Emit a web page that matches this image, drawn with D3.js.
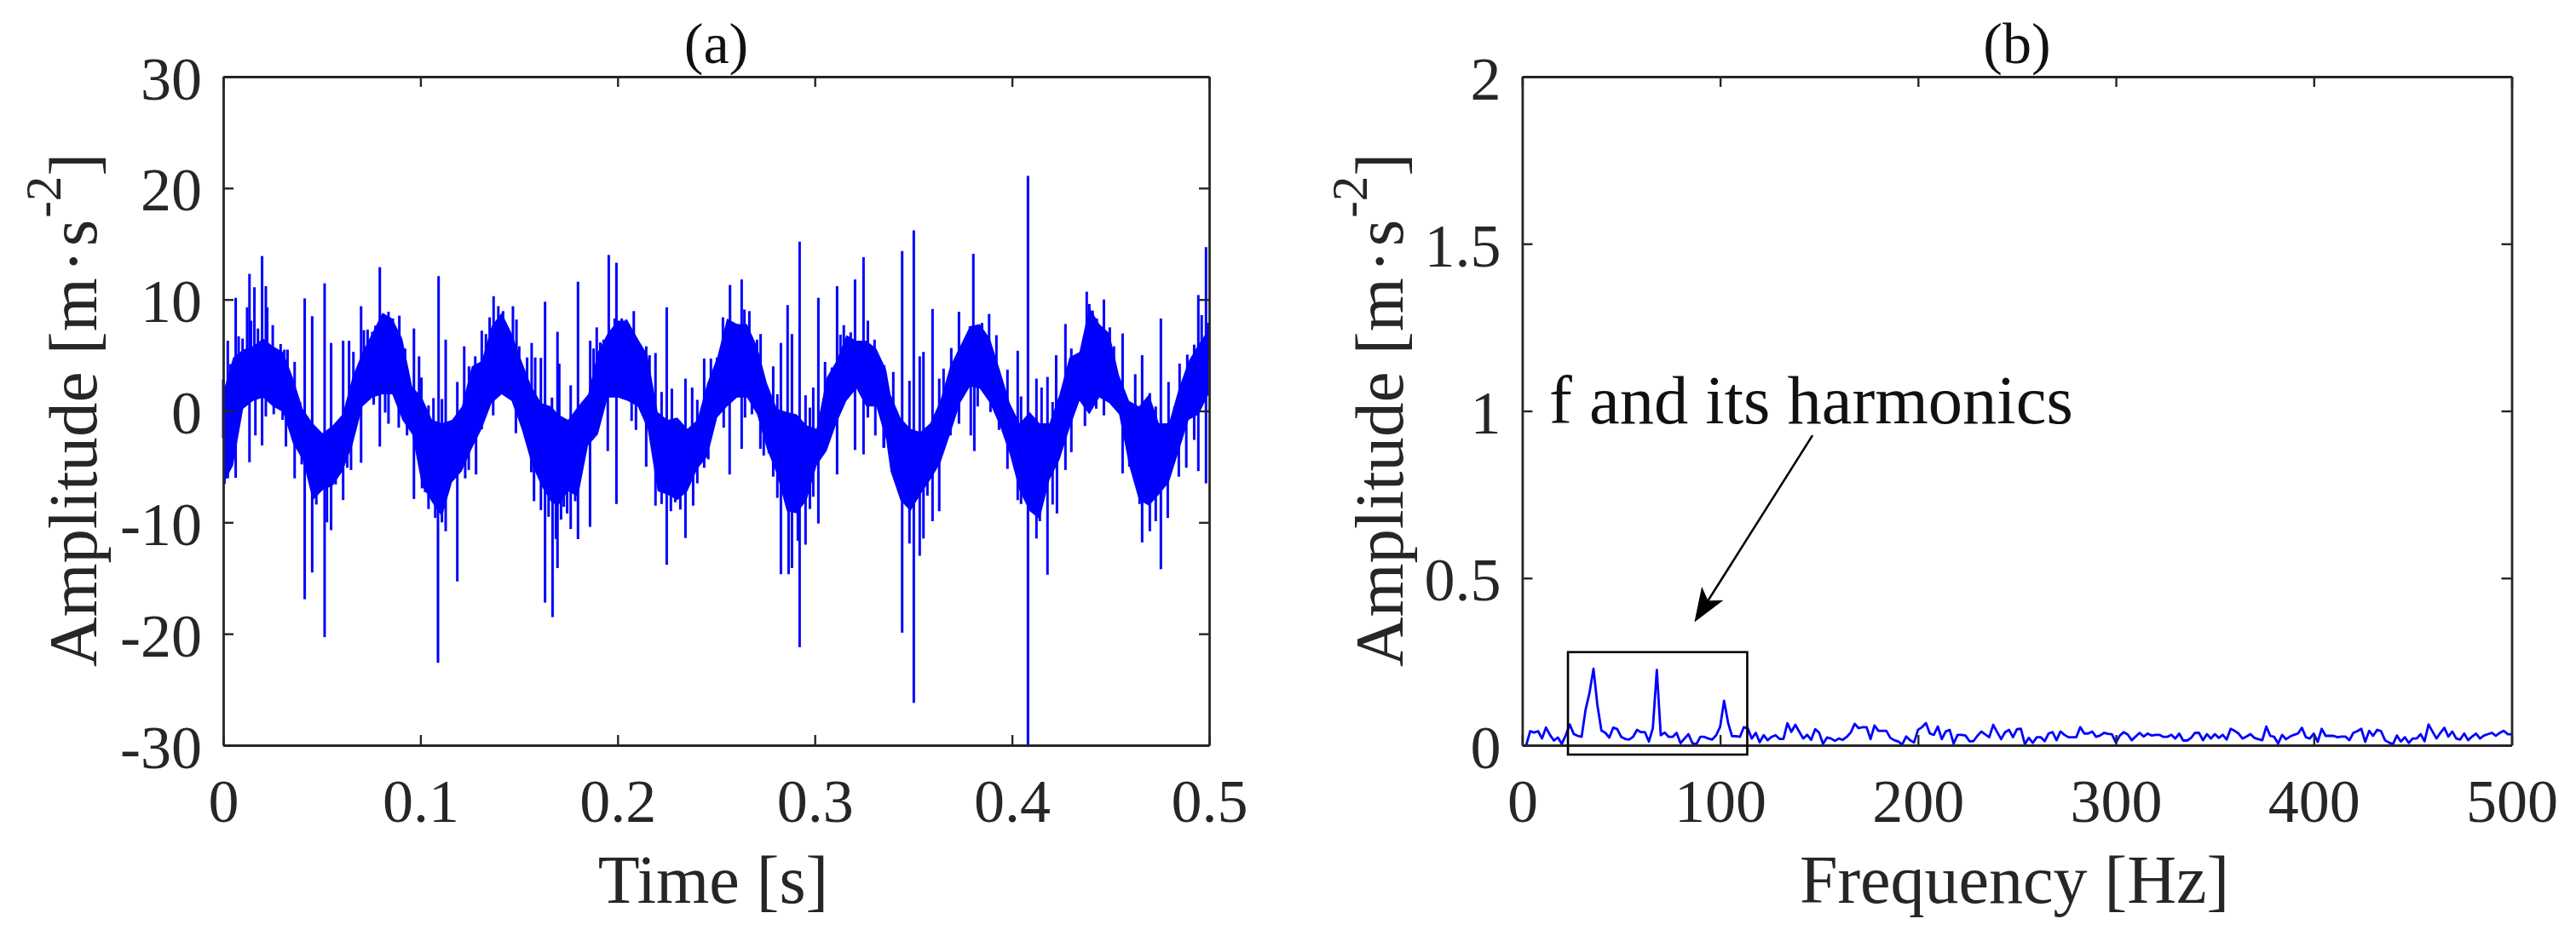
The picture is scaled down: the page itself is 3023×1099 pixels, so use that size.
<!DOCTYPE html>
<html>
<head>
<meta charset="utf-8">
<script src="https://cdn.jsdelivr.net/npm/d3@7"></script>
<style>
  body { margin: 0; background: #fff; }
  text { font-family: "Liberation Serif", serif; fill: #262626; }
  .domain { stroke: #262626; stroke-width: 2.8; }
  .tick line { stroke: #262626; stroke-width: 2.4; }
</style>
</head>
<body>
<svg id="chart" width="3023" height="1099"></svg>
<script>
// Panel (a): solid mass of the vibration signal
var coreTime = [0,.005,.0101,.0151,.0202,.0252,.0303,.0353,.0403,.0454,.0504,.0555,.0605,.0655,.0706,.0756,.0807,.0857,.0908,.0958,.1008,.1059,.1109,.116,.121,.126,.1311,.1361,.1412,.1462,.1513,.1563,.1613,.1664,
  .1698,.1749,.1799,.185,.19,.195,.2001,.2051,.2102,.2152,.2203,.2253,.2303,.2354,.2404,.2455,.2505,.2555,.2606,.2656,.2707,.2757,.2808,.2858,.2908,.2959,.3009,.306,.311,.316,.3211,.3261,.3312,.3362,
  .3384,.3434,.3485,.3535,.3585,.3636,.3686,.3737,.3787,.3837,.3888,.3938,.3989,.4039,.409,.414,.419,.4241,.4291,.4342,.4392,.4443,.4493,.4543,.4594,.4644,.4695,.4745,.4796,.4846,.4896,.4947,.4997];
var coreHigh = [1.7,4.8,5.5,5.8,6.5,5.8,5.3,3,.2,-1.1,-2,-1.3,-.3,3,5.3,7,8.8,8.3,6.5,2.2,1.2,-.8,-1.1,-.8,.4,4,4.5,7.6,8.8,7,4.5,2.2,.7,.4,
  -.3,-.8,.4,1.5,5.3,7,8.1,8.1,6.5,5,-.1,-.8,-.6,-1.6,-.8,2.5,4.8,8.3,7.8,7.8,5.8,2.5,.2,-.1,-.3,-1.3,-1.6,3,4.5,6.8,6.3,6.3,5.6,3.7,
  1.5,-.6,-1.6,-1.9,-1.1,.9,4,5.8,7.6,7.8,6.5,3.7,.7,-1.1,-.1,-1.1,-1.1,1.5,4.8,5.3,9.3,7.8,7,3.2,.9,.4,1.5,-1.1,-1.1,2,4.5,6,7.3];
var coreLow = [-6.6,-4.9,.2,.9,1.2,.4,-.1,-2.9,-4.4,-8,-7.1,-6.7,-5.4,-3.1,.4,1.2,1.5,1.5,-.8,-2.1,-6.7,-8.2,-9.5,-6.4,-5.4,-3.4,-1.6,.7,1.5,.9,-1.6,-4.7,-6.7,-8.2,
  -8.5,-7.2,-7.7,-3.1,-2.1,1.2,1.2,.9,.4,-1.6,-7.2,-7.5,-8,-7.2,-5.2,-4.1,-.6,.4,1.2,1.2,-.3,-3.4,-5.7,-9,-9.2,-8,-4.9,-3.6,-1.1,.9,2,.4,.4,-2.6,
  -5.4,-8,-9,-7.5,-6.2,-4.7,-2.1,.7,2.2,2,.7,-1.3,-3.9,-7.2,-9,-9.7,-6.2,-4.4,-1.6,.9,-.3,1.2,.7,-.3,-4.9,-8,-8.5,-7.5,-6.4,-3.6,-.8,-.3,1.5];

// Panel (a): spike tips above the mass
var upTime = [0,.0023,.0037,.0063,.0078,.0098,.0121,.0133,.0141,.0158,.0176,.0197,.0216,.0223,.0251,.0291,.031,.0326,.0362,.0389,.0413,.0451,.0514,.0547,.0608,.0638,.066,.0699,.0713,.0732,.0756,.0772,.0794,.0814,.0838,.086,.0893,.0922,.0967,.0993,.1005,.1041,.1066,.1092,.1109,.1128,.1187,.1222,.1246,.1278,.1311,.1332,.1351,.1371,.1395,.1419,.1469,.1487,.1501,.1541,.1564,.1582,.1611,.1632,
  .1667,.1695,.1704,.1762,.1799,.1861,.1878,.1894,.1912,.1929,.1955,.1985,.1994,.2021,.2044,.2082,.2145,.2162,.2192,.2223,.2249,.2275,.2344,.2378,.2404,.2439,.2473,.2504,.2534,.257,.2603,.2629,.2643,.2668,.2707,.2725,.2789,.281,.2828,.2862,.2884,.2923,.2953,.2975,.2992,.3018,.3052,.3087,.3113,.313,.3147,.3182,.3204,.3247,.3269,.3303,
  .3352,.3398,.3443,.348,.3502,.3532,.3551,.3597,.3631,.3653,.3692,.3731,.3766,.3787,.3804,.3848,.3884,.3921,.3977,.4029,.4046,.4081,.4124,.415,.418,.4206,.4224,.4271,.4301,.4336,.4379,.4392,.4409,.443,.4466,.4496,.4517,.4561,.4625,.466,.4699,.4729,.4755,.4794,.4824,.485,.4889,.4906,.4924,.4945,.4962,.4984,.4995];
var upValue = [2.85,6.3,4.2,10.15,6.7,6.5,9.3,12.3,8.1,11.1,7.4,13.9,11.2,9.3,7.7,6,5.5,5.5,4.4,.8,10.1,8.5,11.45,6.1,6.3,6.3,5.3,9.4,7.25,7.3,7.1,7.66,12.9,8.7,8.9,8.3,8.55,5.6,7.4,4.9,3,.5,1.15,12.1,1.07,6.4,2.6,5.8,4,4.9,7.2,6.9,8.4,10.3,9.4,8.96,9.4,8.2,5.8,4.8,6.1,4.8,4.76,9.8,
  1.2,7.1,4.25,2.3,11.6,6.3,5.6,7.5,6.15,6.4,14,8.3,13.3,8.3,8.2,8.96,5.8,5,5.2,1.7,9.3,2,2.9,2.1,1,4.7,4.7,4.8,8.4,11.3,7.8,11.8,9.1,8.96,6.4,6.9,4,1.5,6.1,9.5,6.9,15.2,1.4,.3,2.1,10.15,4.4,3.9,11.2,6.85,7.7,7.05,11.8,13.8,8.1,6.4,
  4.1,3.5,14.35,2.7,16.2,4.9,5.3,9.15,2.9,3.8,5.65,8.9,6.6,7.6,14.1,7.9,8.7,6.8,3.7,5.4,1.3,21.1,2.9,2.1,3.05,.8,5,7.8,5.6,5,10.7,9.6,9,8.3,10,7.5,5.8,6.95,3.3,5,1.6,.4,8.3,2.6,.4,4.25,5.05,4.5,5.95,10.4,8.6,14.7,7.9];

// Panel (a): spike tips below the mass
var downTime = [.0006,.0023,.0037,.0063,.0133,.0163,.0197,.0216,.0256,.0301,.0318,.0362,.0398,.0413,.0451,.0472,.0514,.0526,.0547,.057,.0608,.0629,.0648,.0699,.0763,.0794,.0821,.0838,.089,.0932,.0967,.1008,.1024,.1041,.1075,.1089,.1109,.1128,.1187,.1227,.1245,.1282,.1311,.1369,.1484,.1562,.1576,.1611,.1632,.165,
  .167,.1687,.1695,.1713,.1727,.1744,.1762,.1785,.1799,.186,.1912,.195,.1994,.2071,.2093,.2145,.2192,.2223,.2249,.227,.2292,.2318,.2344,.2383,.2404,.2439,.246,.2538,.2568,.2629,.2646,.2681,.2724,.2741,.2767,.2789,.281,.2828,.2867,.2884,.2914,.2923,.2953,.2975,.2992,.3018,.3113,.3204,.3247,.3269,.3307,.3351,.3377,
  .3349,.3384,.3407,.3443,.348,.3502,.3532,.3551,.3571,.3597,.3631,.3688,.3731,.3791,.3809,.3826,.3891,.3934,.3977,.4029,.4046,.4081,.4124,.4141,.418,.4206,.4228,.4271,.4301,.437,.4427,.4466,.4561,.4595,.4647,.466,.4699,.4729,.4755,.479,.4846,.4884,.4924,.4945,.4984];
var downValue = [-6.56,-6.05,-5,-6,-4.6,-2.2,-3.1,-.5,-.3,-.8,-3.2,-6.05,-4.8,-16.9,-14.5,-8.4,-20.3,-10,-10.7,-6.6,-8,-5.1,-5.3,-4.65,.56,-3.2,-.15,-1.15,-1.5,-2.2,-7.9,-6.95,-7.3,-8.8,-9.6,-22.6,-10,-10.8,-15.3,-6.05,-5.3,-5.7,-1.65,-.4,-2,-5.5,-8.1,-8.9,-17.2,-9.5,
  -18.5,-11.5,-14.1,-9.75,-8.6,-9.2,-10.6,-8.1,-11.5,-10.4,-.3,-3.6,-8.35,-.9,-1.7,-5,-8.5,-8.35,-13.8,-9,-8.2,-8.85,-11.4,-8.5,-6.5,-5.1,-4.35,-1.5,-5.7,-3.4,-.6,-.3,-3.4,-4,-3.8,-5.9,-7.8,-14.65,-14.65,-14.1,-11.65,-21.2,-12,-8.8,-7.7,-10.1,-5.7,-3.5,-3.9,-.6,-2.2,-3.3,-3.8,
  -3.3,-4,-6.2,-19.9,-11.9,-26.2,-13,-11.45,-7.6,-9.9,-9,-2.2,-1.15,-2.2,-3.6,.4,-.1,-1.7,-5.2,-8,-8.35,-30,-11.45,-9.9,-14.7,-8.4,-9.2,-5.3,-3.7,-1.35,.2,-.4,-5.6,-5,-8.35,-11.8,-10.8,-9.9,-14.2,-9.6,-5.9,-5.1,-2.6,-5.4,-6.5];

// Panel (b): spectrum amplitude, one value every 2 Hz from 2 to 500 Hz
var freqAmp = [0,.042,.038,.042,.02,.053,.031,.014,.023,.004,
  .03,.062,.034,.028,.025,.106,.157,.229,.119,.044,
  .037,.023,.053,.048,.025,.019,.017,.025,.046,.039,
  .039,.011,.051,.225,.03,.038,.025,.025,.037,.006,
  .02,.033,.006,.003,.025,.025,.02,.017,.03,.055,
  .133,.068,.027,.027,.025,.054,.05,.02,.037,.009,
  .03,.015,.025,.03,.019,.019,.066,.04,.061,.04,
  .02,.031,.016,.048,.038,.004,.023,.02,.013,.02,
  .016,.025,.038,.064,.051,
  .054,.054,.018,.059,.043,.043,.043,.022,.015,.011,.002,.026,.015,.008,.046,
  .054,.066,.035,.031,.056,.018,.041,.046,.005,.031,.031,.029,.012,.012,.028,
  .041,.032,.024,.061,.039,.018,.039,.046,.024,.048,.049,.003,.022,.007,.024,
  .024,.012,.035,.039,.015,.041,.031,.024,.024,.024,.054,.035,.035,.041,.025,
  .029,.037,.034,.033,.008,.029,.039,.032,.015,.026,.037,.026,.035,.029,.031,
  .031,.025,.025,.031,.02,.035,.014,.014,
  .022,.037,.037,.015,.033,.02,.033,.022,.031,.017,.049,.043,.035,.02,.026,
  .033,.022,.018,.015,.056,.028,.025,.005,.031,.018,.026,.031,.035,.052,.024,
  .02,.035,.01,.049,.028,.028,.028,.024,.026,.026,.015,.037,.042,.049,.01,
  .043,.028,.046,.042,.015,.008,.003,.029,.011,.024,.007,.02,.02,.033,.012,
  .062,.041,.02,.037,.052,.026,.041,.02,.017,.035,.015,.026,.035,.02,.029,
  .033,.037,.028,.037,.043,.033,.033];

var timeTicks = [0, 0.1, 0.2, 0.3, 0.4, 0.5];
var accelTicks = [-30, -20, -10, 0, 10, 20, 30];
var freqTicks = [0, 100, 200, 300, 400, 500];
var ampTicks = [0, 0.5, 1, 1.5, 2];

// Box and arrow on panel (b), in data units
var boxFreq = [23.1, 113.7];
var boxAmp = [-0.028, 0.2785];
var arrowFreq = [146.7, 87];
var arrowAmp = [0.927, 0.368];

var svg = d3.select("#chart");
var top_ = 90, bottom = 875;
var blue = "#0000ff";

var xA = d3.scaleLinear().domain([0, 0.5]).range([262, 1419]);
var yA = d3.scaleLinear().domain([-30, 30]).range([bottom, top_]);
var xB = d3.scaleLinear().domain([0, 500]).range([1786.4, 2947.5]);
var yB = d3.scaleLinear().domain([0, 2]).range([bottom, top_]);

// Panel (a) signal
var gA = svg.append("g");
var coreRows = coreTime.map((t, i) => ({t: t, hi: coreHigh[i], lo: coreLow[i]}));
gA.append("path")
  .datum(coreRows)
  .attr("fill", blue)
  .attr("d", d3.area().x(d => xA(d.t)).y0(d => yA(d.lo)).y1(d => yA(d.hi)));

// Each spike leaves from the middle of the mass at its own time
var bisect = d3.bisector(d => d.t).center;
var spikes = upTime.map((t, i) => [t, upValue[i]]).concat(downTime.map((t, i) => [t, downValue[i]]));
gA.selectAll("line.spike")
  .data(spikes)
  .join("line")
  .attr("class", "spike")
  .attr("x1", d => xA(d[0]))
  .attr("x2", d => xA(d[0]))
  .attr("y1", d => {
    var row = coreRows[bisect(coreRows, d[0])];
    return yA((row.hi + row.lo) / 2);
  })
  .attr("y2", d => yA(d[1]))
  .attr("stroke", blue)
  .attr("stroke-width", 3);

// Panel (b) spectrum
svg.append("path")
  .datum(freqAmp)
  .attr("fill", "none")
  .attr("stroke", blue)
  .attr("stroke-width", 2.8)
  .attr("stroke-linejoin", "round")
  .attr("d", d3.line().x((d, i) => xB((i + 1) * 2)).y(d => yB(d)));

// Draw a boxed axis with ticks pointing inwards on all four sides
function drawAxes(x, y, xTicks, yTicks) {
  var x0 = x.range()[0], x1 = x.range()[1];
  svg.append("g")
    .attr("transform", `translate(0,${bottom})`)
    .call(d3.axisBottom(x).tickValues(xTicks).tickFormat(d => String(d)).tickSize(-12).tickSizeOuter(0).tickPadding(39));
  svg.append("g")
    .attr("transform", `translate(0,${top_})`)
    .call(d3.axisTop(x).tickValues(xTicks).tickFormat("").tickSize(-12).tickSizeOuter(0));
  svg.append("g")
    .attr("transform", `translate(${x0},0)`)
    .call(d3.axisLeft(y).tickValues(yTicks).tickFormat(d => String(d)).tickSize(-12).tickSizeOuter(0).tickPadding(25))
    .selectAll("text").attr("dy", 26);
  svg.append("g")
    .attr("transform", `translate(${x1},0)`)
    .call(d3.axisRight(y).tickValues(yTicks).tickFormat("").tickSize(-12).tickSizeOuter(0));
  svg.selectAll(".tick text").style("font-size", "72px").style("font-family", '"Liberation Serif", serif');
}
drawAxes(xA, yA, timeTicks, accelTicks);
drawAxes(xB, yB, freqTicks, ampTicks);

// Titles and axis labels
function title(text, cx) {
  svg.append("text").attr("x", cx).attr("y", 74).attr("text-anchor", "middle")
    .style("font-size", "68px").style("fill", "#111").text(text);
}
title("(a)", 840.5);
title("(b)", 2367);

function xLabel(text, cx) {
  svg.append("text").attr("x", cx).attr("y", 1060).attr("text-anchor", "middle")
    .style("font-size", "80px").text(text);
}
xLabel("Time [s]", 837);
xLabel("Frequency [Hz]", 2364);

function yLabel(baseX) {
  var t = svg.append("text")
    .attr("transform", `translate(${baseX},783) rotate(-90)`)
    .style("font-size", "81px");
  t.append("tspan").text("Amplitude [m");
  t.append("tspan").attr("dx", 6).text("\u00b7");
  t.append("tspan").attr("dx", 4).text("s");
  t.append("tspan").attr("dx", 2).attr("dy", -42).style("font-size", "59px").text("-2");
  t.append("tspan").attr("dy", 42).text("]");
}
yLabel(113);
yLabel(1646);

// Annotation on panel (b)
svg.append("text").attr("x", 1818).attr("y", 497)
  .style("font-size", "80.5px").style("fill", "#111").text("f and its harmonics");

svg.append("rect")
  .attr("x", xB(boxFreq[0])).attr("y", yB(boxAmp[1]))
  .attr("width", xB(boxFreq[1]) - xB(boxFreq[0]))
  .attr("height", yB(boxAmp[0]) - yB(boxAmp[1]))
  .attr("fill", "none").attr("stroke", "#000").attr("stroke-width", 2.6);

var tail = [xB(arrowFreq[0]), yB(arrowAmp[0])];
var tip = [xB(arrowFreq[1]), yB(arrowAmp[1])];
var ang = Math.atan2(tip[1] - tail[1], tip[0] - tail[0]);
function fromTip(back, side) {
  return [tip[0] - back * Math.cos(ang) - side * Math.sin(ang),
          tip[1] - back * Math.sin(ang) + side * Math.cos(ang)];
}
svg.append("line")
  .attr("x1", tail[0]).attr("y1", tail[1])
  .attr("x2", fromTip(25, 0)[0]).attr("y2", fromTip(25, 0)[1])
  .attr("stroke", "#000").attr("stroke-width", 2.6);
svg.append("path")
  .attr("fill", "#000")
  .attr("d", d3.line()([tip, fromTip(40, 15), fromTip(30, 0), fromTip(40, -15)]) + "Z");
</script>
</body>
</html>
